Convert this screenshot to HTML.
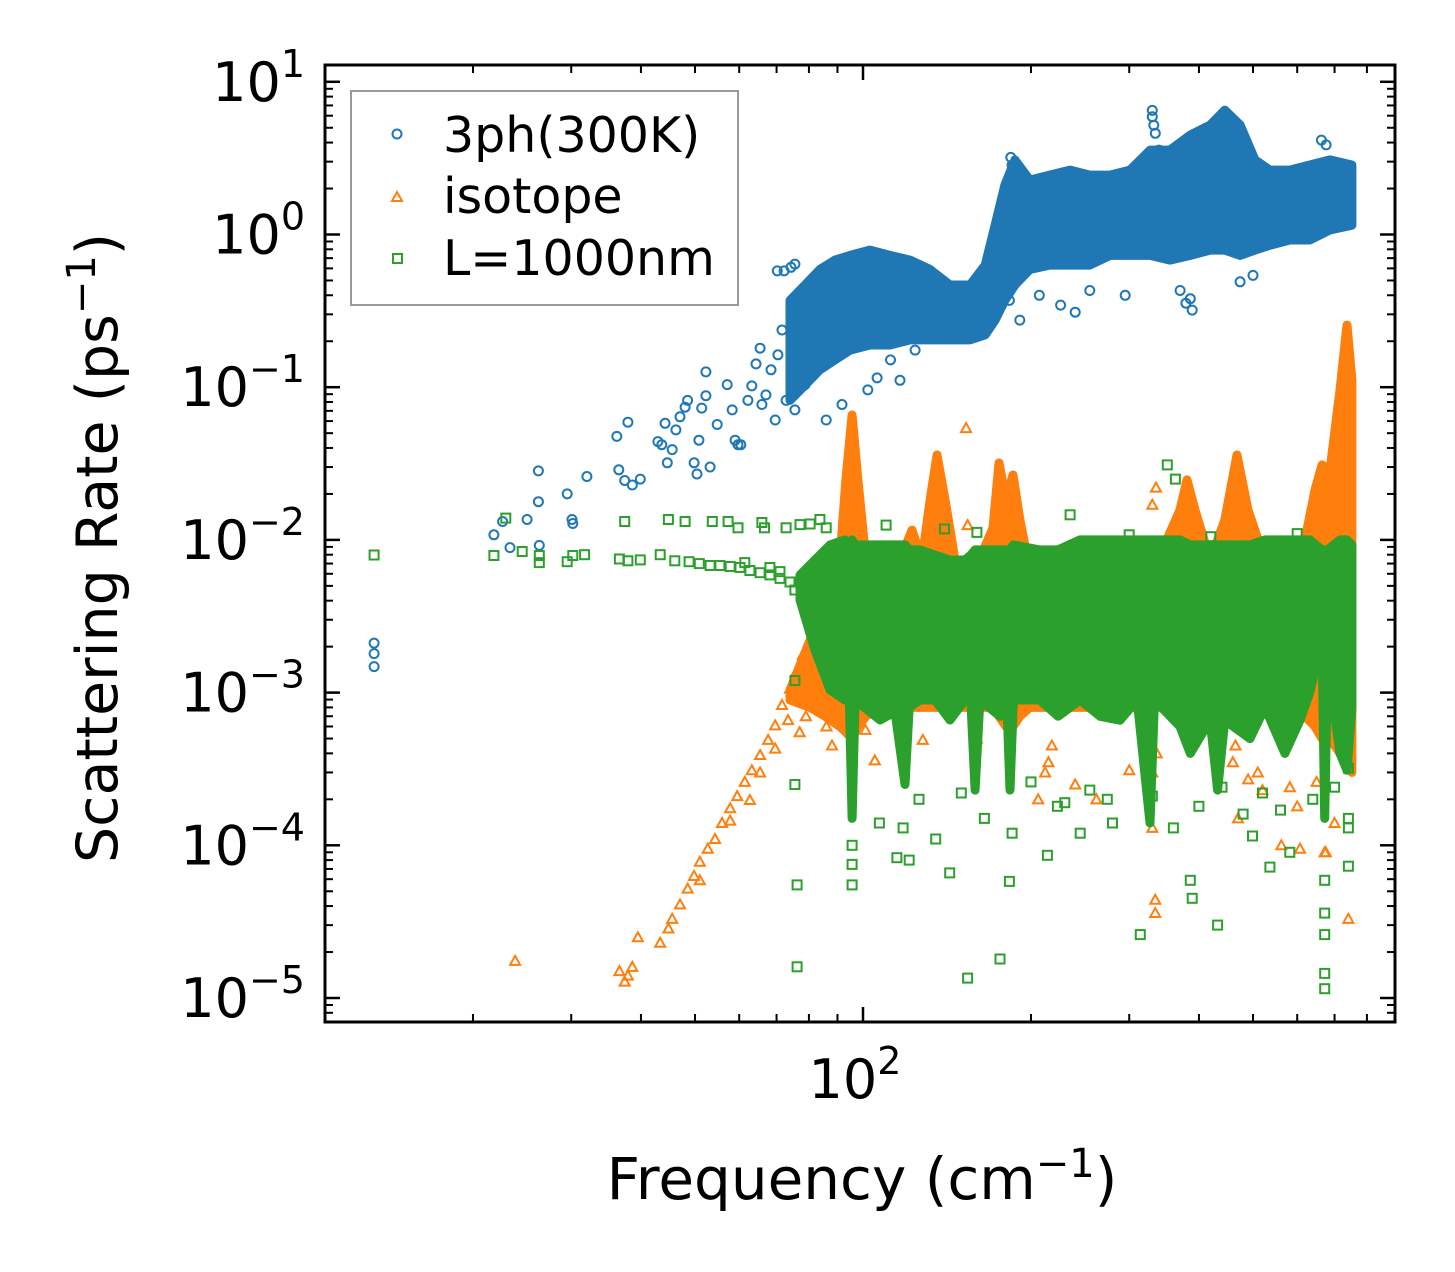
<!DOCTYPE html>
<html><head><meta charset="utf-8">
<style>
html,body{margin:0;padding:0;background:#fff;}
svg{display:block;font-family:"DejaVu Sans","Liberation Sans",sans-serif;}
</style></head>
<body>
<svg id="chart" width="1455" height="1272" viewBox="0 0 1455 1272" xmlns="http://www.w3.org/2000/svg">
<rect x="0" y="0" width="1455" height="1272" fill="#fff"/>
<defs><clipPath id="plotclip"><rect x="325" y="65" width="1070" height="957"/></clipPath></defs>
<g id="bands" clip-path="url(#plotclip)"></g>
<g id="marks" clip-path="url(#plotclip)"></g>
<g id="axes"></g>
<g>
<rect x="351" y="91" width="387" height="214" fill="#fff" fill-opacity="0.8" stroke="#999" stroke-width="2"/>
<circle cx="397" cy="134" r="4.5" fill="none" stroke="#1f77b4" stroke-width="2"/>
<text x="443" y="152" font-size="49">3ph(300K)</text>
<polygon points="397,192 402,201 392,201" fill="none" stroke="#ff7f0e" stroke-width="2"/>
<text x="443" y="213" font-size="49">isotope</text>
<rect x="393" y="254" width="9" height="9" fill="none" stroke="#2ca02c" stroke-width="2"/>
<text x="443" y="275" font-size="49">L=1000nm</text>
</g>
<text x="862" y="1199" font-size="58" text-anchor="middle">Frequency (cm<tspan dy="-22" font-size="40">−1</tspan><tspan dy="22">)</tspan></text>
<text transform="translate(117,548) rotate(-90)" font-size="57" text-anchor="middle">Scattering Rate (ps<tspan dy="-22" font-size="40">−1</tspan><tspan dy="22">)</tspan></text>
</svg>
<script>
// ---------- data ----------
const blueBandFreq=[74,78.7,83.7,89.1,94.8,102.9,111.8,121.4,131.9,143.2,155.5,165.6,172.5,179.6,187.2,199,216,235,255,277,301,327,355,386,419,445,474,504,536,582,632,687,752];
const blueBandHigh=[0.37,0.467,0.59,0.68,0.73,0.79,0.73,0.68,0.59,0.467,0.467,0.63,1.15,2.11,3.08,2.27,2.45,2.64,2.45,2.45,2.64,3.57,3.57,4.48,5.21,6.53,5.21,3.08,2.64,2.64,2.85,3.08,2.85];
const blueBandLow=[0.082,0.103,0.13,0.151,0.175,0.189,0.189,0.204,0.204,0.204,0.204,0.22,0.275,0.37,0.467,0.59,0.63,0.63,0.63,0.73,0.73,0.73,0.68,0.73,0.79,0.79,0.73,0.79,0.85,0.92,0.92,1.07,1.15];
const blueFreq=[13.3,13.3,13.3,21.8,22.6,23.3,25,26.2,26.2,26.3,29.5,30.2,30.1,32,36.2,37.9,36.5,37.4,38.6,39.9,42.9,43.6,44.2,44.6,45.5,46.2,47,48,48.5,49.8,50.4,50.8,51.4,52.3,52.3,53.2,54.8,57.1,58.3,59,59.7,60.4,62.2,63.2,64.3,65.4,65.9,67,68.4,69.6,70.4,71.6,72.2,70.2,74.3,75.5,72.8,75.5,78.7,81,83,85.9,91.7,102,106,112,116.5,124,137,149,183,191,207,226,240,255,295,370,386,389,379,330,332,334,339,330,663,676,685,680,474,500,184,185,199,226];
const blueRate=[2.11e-3,1.8e-3,1.48e-3,0.0108,0.0132,0.0089,0.0136,0.0283,0.0178,0.0092,0.02,0.0128,0.0136,0.026,0.0476,0.059,0.0288,0.0245,0.0229,0.025,0.044,0.042,0.058,0.032,0.039,0.0525,0.064,0.074,0.082,0.032,0.027,0.045,0.073,0.126,0.088,0.03,0.057,0.104,0.071,0.045,0.042,0.042,0.082,0.102,0.142,0.18,0.077,0.089,0.13,0.061,0.163,0.237,0.578,0.578,0.61,0.64,0.082,0.071,0.104,0.17,0.151,0.061,0.077,0.096,0.115,0.151,0.111,0.175,0.237,0.275,0.37,0.275,0.4,0.345,0.31,0.43,0.4,0.43,0.38,0.32,0.355,5.9,5.2,4.6,3.57,6.5,4.15,3.86,1.28,1.15,0.49,0.54,3.2,2.85,2.11,2.17];

const orangeBandFreq=[74,80.4,85.5,90.9,93.2,95.6,97.9,101.2,107.3,116.5,122.4,127.5,131.9,135.7,140.3,146.2,158.8,171,175.3,180.4,185.7,191.1,199,216,244.8,277,313.5,340.7,369.9,380.7,393.6,419,445,468,489.7,525.4,582,619.6,645.7,664.6,687,715.9,737,752];
const orangeBandHigh=[1.04e-3,2.21e-3,4.04e-3,7.38e-3,0.0247,0.0658,0.0247,7.38e-3,6.35e-3,7.38e-3,0.0116,7.38e-3,0.0182,0.036,0.0182,7.38e-3,6.35e-3,0.012,0.0319,0.0182,0.0266,0.0135,6.35e-3,4.7e-3,4.7e-3,5.46e-3,6.35e-3,7.96e-3,0.0157,0.0247,0.0157,7.38e-3,0.0135,0.036,0.0157,7.38e-3,6.35e-3,0.01,0.0212,0.031,0.0287,0.096,0.255,0.111];
const orangeBandLow=[8.95e-4,8e-4,7e-4,6e-4,5.5e-4,5e-4,6e-4,7e-4,8e-4,8e-4,8e-4,8e-4,8e-4,8e-4,8e-4,8e-4,8e-4,8e-4,7e-4,6e-4,6e-4,7e-4,8e-4,8e-4,8e-4,8e-4,8e-4,8e-4,8e-4,7e-4,7e-4,8e-4,7e-4,6e-4,7e-4,8e-4,7e-4,7e-4,6e-4,5e-4,5e-4,4e-4,3.5e-4,3e-4];
const orangeFreq=[23.8,36.6,37.4,37.9,38.6,39.5,43.3,44.8,45.5,47,48.5,49.8,51,52.7,54.3,55.9,57.8,59.5,61.4,63.2,65.4,67.6,69.6,71.6,74,76.2,78,80.4,51,57.8,62.7,65.4,69.6,73.4,101,105,128,160,206,212,240,262,300,330,334,334,470,490,520,562,582,600,650,675,700,741,741,741,745,153,154,330,335,672,607,82,86,88,84,77,79,215,218,460,465,510,330,336];
const orangeRate=[1.75e-5,1.5e-5,1.28e-5,1.4e-5,1.6e-5,2.5e-5,2.3e-5,2.85e-5,3.3e-5,4.1e-5,5.2e-5,6.3e-5,7.8e-5,9.5e-5,1.1e-4,1.4e-4,1.75e-4,2.1e-4,2.6e-4,3.1e-4,3.9e-4,4.9e-4,6.1e-4,8.3e-4,1.06e-3,1.4e-3,1.76e-3,2.2e-3,5.9e-5,1.45e-4,1.98e-4,3.0e-4,4.3e-4,6.6e-4,5.7e-4,3.6e-4,4.9e-4,5e-4,2.0e-4,3.0e-4,2.5e-4,2.0e-4,3.1e-4,1.3e-4,4.4e-5,3.6e-5,1.5e-4,2.7e-4,2.3e-4,1.0e-4,2.4e-4,1.8e-4,2.6e-4,9e-5,1.4e-4,3.3e-5,8e-3,0.0152,0.02,0.054,0.0125,0.017,0.022,9e-5,9.5e-5,8e-4,6e-4,4.5e-4,1.0e-3,5.5e-4,7e-4,3.5e-4,4.5e-4,3.5e-4,4.5e-4,3e-4,3e-4,4e-4];

const greenBandFreq=[77.1,82,87.3,92.8,94.5,95.6,96.8,107.3,114.1,118.9,121,126.5,134.6,143.2,152.3,156,158.8,162,176,181,183.4,186,207.3,223.7,244.8,266,288.8,310,326.9,333,369.9,386,419,432,445,493.7,525.4,570.3,607,632,664.6,672,680,715.9,737,752];
const greenBandHigh=[5.89e-3,7.38e-3,9.27e-3,0.01,9.27e-3,0.01,9.27e-3,9.27e-3,9.27e-3,9.27e-3,8.6e-3,8.6e-3,7.96e-3,7.38e-3,7.38e-3,7.96e-3,8.6e-3,8.6e-3,8.6e-3,8.6e-3,8.6e-3,9.27e-3,8.6e-3,8.6e-3,0.01,0.01,0.01,0.01,0.01,0.01,0.01,9.27e-3,9.27e-3,9.27e-3,9.27e-3,9.27e-3,0.01,0.01,0.01,0.01,8.6e-3,8.6e-3,8.6e-3,0.01,0.01,9.27e-3];
const greenBandLow=[4.04e-3,1.9e-3,1.04e-3,8.95e-4,8.95e-4,1.5e-4,8.95e-4,6.62e-4,7.5e-4,2.5e-4,8e-4,8.95e-4,8.95e-4,6.62e-4,8.95e-4,8.95e-4,2.3e-4,8.95e-4,7e-4,8.95e-4,2.3e-4,8.95e-4,8.95e-4,7e-4,8.95e-4,7e-4,6.6e-4,8.95e-4,1.4e-4,8.95e-4,6e-4,4e-4,6.6e-4,2.3e-4,6.6e-4,5e-4,8e-4,4e-4,6.6e-4,1.0e-3,2.2e-3,1.5e-4,1.5e-3,4e-4,3.1e-4,8e-4];
const greenFreq=[13.3,21.8,22.9,24.5,26.3,26.3,29.5,30.2,31.7,37.4,36.6,37.9,39.9,43.3,44.8,46,48,48.8,50.9,53.7,57.3,59.7,61.4,65.9,66.6,68.1,71,72.8,77.1,80.4,83.7,85.9,53.2,55.4,57.8,60.2,62.7,65.4,68.1,71,74,75.5,75.5,75.5,76.2,76.2,95.6,107,115,121,135,143,154,176,183,214,223,245,274,314,386,389,432,499,536,582,672,672,672,672,672,741,741,741,235,351,363,110,140,160,300,420,600,95.6,95.6,118,126,150,165,185,200,230,255,280,330,360,400,440,480,520,560,640,700,741];
const greenRate=[7.96e-3,7.9e-3,0.0139,8.4e-3,7.9e-3,7.1e-3,7.2e-3,7.9e-3,8e-3,0.0132,7.5e-3,7.3e-3,7.4e-3,8e-3,0.0136,7.3e-3,0.0132,7.2e-3,7e-3,0.0132,0.0132,0.012,7.1e-3,0.013,0.012,6.6e-3,6.2e-3,0.012,0.0126,0.0127,0.0136,0.012,6.8e-3,6.8e-3,6.7e-3,6.6e-3,6.3e-3,6.1e-3,5.9e-3,5.6e-3,5.3e-3,4.7e-3,1.2e-3,2.5e-4,5.5e-5,1.6e-5,5.5e-5,1.4e-4,8.3e-5,8e-5,1.1e-4,6.6e-5,1.35e-5,1.8e-5,5.8e-5,8.6e-5,1.8e-4,1.2e-4,2.0e-4,2.6e-5,5.9e-5,4.5e-5,3e-5,1.15e-4,7.2e-5,9e-5,5.9e-5,3.6e-5,2.6e-5,1.45e-5,1.15e-5,7.3e-5,1.5e-4,3.2e-4,0.0146,0.031,0.025,0.0125,0.0118,0.0112,0.0108,0.0105,0.011,1.0e-4,7.5e-5,1.3e-4,2.0e-4,2.2e-4,1.5e-4,1.2e-4,2.6e-4,1.9e-4,2.3e-4,1.4e-4,2.1e-4,1.3e-4,1.8e-4,2.4e-4,1.6e-4,2.2e-4,1.7e-4,2.0e-4,2.4e-4,1.3e-4];

const yTickLabels=["1","0","−1","−2","−3","−4","−5"];
const yTickExp=[1,0,-1,-2,-3,-4,-5];
const xTickExp=[2];

// ---------- scales ----------
const X0=863, XD=558, Y0=234.5, YD=152.7;
function xs(f){return X0+(Math.log10(f)-2)*XD;}
function ys(v){return Y0-Math.log10(v)*YD;}
const NS="http://www.w3.org/2000/svg";
function mk(tag,attrs,parent){const e=document.createElementNS(NS,tag);for(const k in attrs)e.setAttribute(k,attrs[k]);parent.appendChild(e);return e;}
const bands=document.getElementById('bands'), marks=document.getElementById('marks'), axes=document.getElementById('axes');
const C={blue:"#1f77b4",orange:"#ff7f0e",green:"#2ca02c"};

function band(freq,hi,lo,color,name,parent){
  let pts=[];
  for(let i=0;i<freq.length;i++)pts.push(xs(freq[i]).toFixed(1)+","+ys(hi[i]).toFixed(1));
  for(let i=freq.length-1;i>=0;i--)pts.push(xs(freq[i]).toFixed(1)+","+ys(lo[i]).toFixed(1));
  const p=mk('polygon',{points:pts.join(" "),fill:color,stroke:color,'stroke-width':9,'stroke-linejoin':'round'},parent);
  
  
}
function marker(kind,f,v,color,g){
  const x=xs(f),y=ys(v);let e;
  if(kind==='o')e=mk('circle',{cx:x.toFixed(1),cy:y.toFixed(1),r:4.5,fill:'none',stroke:color,'stroke-width':2},g);
  else if(kind==='^')e=mk('polygon',{points:`${x},${y-5} ${x+5},${y+4} ${x-5},${y+4}`,fill:'none',stroke:color,'stroke-width':2},g);
  else e=mk('rect',{x:(x-4.5).toFixed(1),y:(y-4.5).toFixed(1),width:9,height:9,fill:'none',stroke:color,'stroke-width':2},g);
  return e;
}
function series(kind,freq,rate,color,name){
  const g=mk('g',{},marks);
  
  
  for(let i=0;i<freq.length;i++){
    const e=marker(kind,freq[i],rate[i],color,g);
    
    
  }
}
// draw order: blue, orange, green
band(blueBandFreq,blueBandHigh,blueBandLow,C.blue,'3ph-dense-region',bands);
series('o',blueFreq,blueRate,C.blue,'3ph-series');
band(orangeBandFreq,orangeBandHigh,orangeBandLow,C.orange,'isotope-dense-region',marks);
series('^',orangeFreq,orangeRate,C.orange,'isotope-series');
band(greenBandFreq,greenBandHigh,greenBandLow,C.green,'boundary-dense-region',marks);
series('s',greenFreq,greenRate,C.green,'boundary-series');

// ---------- axes ----------
const L=325,R=1395,T=65,B=1022;
const frame=mk('rect',{x:L,y:T,width:R-L,height:B-T,fill:'none',stroke:'#000','stroke-width':3},axes);


function tick(x1,y1,x2,y2,w,name){const t=mk('line',{x1,y1,x2,y2,stroke:'#000','stroke-width':w},axes);}
for(let d=-6;d<=1;d++){
  for(let m=1;m<10;m++){
    const v=m*Math.pow(10,d);const y=ys(v);
    if(y<T||y>B)continue;
    const len=m===1?15:8,w=m===1?2.5:2;
    tick(L,y,L+len,y,w,'y-tick');tick(R,y,R-len,y,w,'y-tick');
  }
}
for(let i=0;i<yTickExp.length;i++){
  const y=ys(Math.pow(10,yTickExp[i]));
  const t=mk('text',{x:305,y:y+19,'font-size':54,'text-anchor':'end'},axes);
  
  
  const s1=mk('tspan',{},t);s1.textContent="10";
  const s2=mk('tspan',{dy:-24,'font-size':38},t);s2.textContent=yTickLabels[i];
}
for(let d=1;d<=2;d++){
  for(let m=1;m<10;m++){
    const f=m*Math.pow(10,d);const x=xs(f);
    if(x<L||x>R)continue;
    const len=m===1?15:8,w=m===1?2.5:2;
    tick(x,B,x,B-len,w,'x-tick');tick(x,T,x,T+len,w,'x-tick');
  }
}
for(let i=0;i<xTickExp.length;i++){
  const x=xs(Math.pow(10,xTickExp[i]));
  const t=mk('text',{x:x-8,y:1098,'font-size':54,'text-anchor':'middle'},axes);
  
  
  const s1=mk('tspan',{},t);s1.textContent="10";
  const s2=mk('tspan',{dy:-24,'font-size':38},t);s2.textContent=String(xTickExp[i]);
}
</script>
</body></html>
